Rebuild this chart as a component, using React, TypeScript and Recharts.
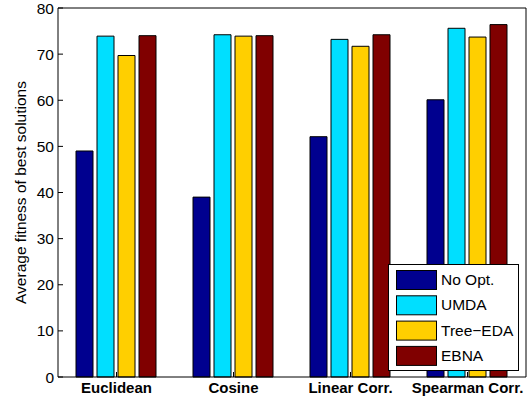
import React from 'react';
import { BarChart, Bar, XAxis, YAxis, Legend } from 'recharts';

const categories = ['Euclidean', 'Cosine', 'Linear Corr.', 'Spearman Corr.'];
const noOpt = [49.0, 39.0, 52.1, 60.1];
const umda = [73.9, 74.2, 73.2, 75.6];
const treeEda = [69.7, 73.9, 71.7, 73.7];
const ebna = [74.0, 74.0, 74.2, 76.4];
const yTicks = [0, 10, 20, 30, 40, 50, 60, 70, 80];
const seriesNames = ['No Opt.', 'UMDA', 'Tree\u2212EDA', 'EBNA'];
const seriesColors = ['#00008F', '#00DFFF', '#FFCF00', '#800000'];

const data = categories.map((c, i) => ({
  name: c,
  noOpt: noOpt[i],
  umda: umda[i],
  tree: treeEda[i],
  ebna: ebna[i],
}));

const FONT = '"Liberation Sans", Arial, Helvetica, sans-serif';

const renderLegend = (props: any) => {
  const payload = [...(props.payload || [])].sort(
    (a: any, b: any) => seriesNames.indexOf(a.value) - seriesNames.indexOf(b.value)
  );
  return (
    <svg width={131} height={108} style={{ display: 'block' }}>
      <rect x={0.5} y={0.5} width={130} height={106} fill="#fff" stroke="#000" />
      {payload.map((p: any, i: number) => (
        <g key={i}>
          <rect x={8.5} y={6.5 + i * 25.3} width={40} height={19} fill={p.color} stroke="#000" />
          <text x={53} y={21 + i * 25.3} fontSize={15.5} fontFamily={FONT} fill="#000">
            {p.value}
          </text>
        </g>
      ))}
    </svg>
  );
};

const YLabel = () => (
  <text
    x={20}
    y={192.5}
    transform="rotate(-90, 20, 192.5)"
    textAnchor="middle"
    dominantBaseline="central"
    fontSize={15.5}
    fontFamily={FONT}
    fill="#000"
  >
    Average fitness of best solutions
  </text>
);

export default function App() {
  const keys = ['noOpt', 'umda', 'tree', 'ebna'];
  return (
    <div style={{ position: 'absolute', left: 0, top: 0 }}>
      <BarChart
        width={531}
        height={398}
        data={data}
        margin={{ top: 7, right: 4, bottom: 0, left: 0 }}
        barCategoryGap={18}
        barGap={4}
      >
        <XAxis
          dataKey="name"
          height={21}
          stroke="#000"
          tickSize={-5}
          tickMargin={10}
          interval={0}
          tick={{ fill: '#000', fontSize: 15, fontWeight: 'bold', fontFamily: FONT }}
        />
        <XAxis
          xAxisId="top"
          orientation="top"
          dataKey="name"
          height={1}
          stroke="#000"
          tickSize={-5}
          tick={false}
          interval={0}
        />
        <YAxis
          width={58}
          domain={[0, 80]}
          ticks={yTicks}
          stroke="#000"
          tickSize={-5}
          tickMargin={9}
          interval={0}
          tick={{ fill: '#000', fontSize: 15.5, fontFamily: FONT }}
          label={{ content: () => <YLabel /> }}
        />
        <YAxis
          yAxisId="right"
          orientation="right"
          width={1}
          domain={[0, 80]}
          ticks={yTicks}
          stroke="#000"
          tickSize={-5}
          tick={false}
          interval={0}
        />
        <Legend
          layout="vertical"
          align="center"
          verticalAlign="middle"
          content={renderLegend}
          wrapperStyle={{ left: 388, top: 264, width: 131, height: 108 }}
        />
        {keys.map((k, i) => (
          <Bar
            key={k}
            dataKey={k}
            name={seriesNames[i]}
            fill={seriesColors[i]}
            stroke="#000"
            strokeWidth={1}
            isAnimationActive={false}
          />
        ))}
      </BarChart>
    </div>
  );
}
